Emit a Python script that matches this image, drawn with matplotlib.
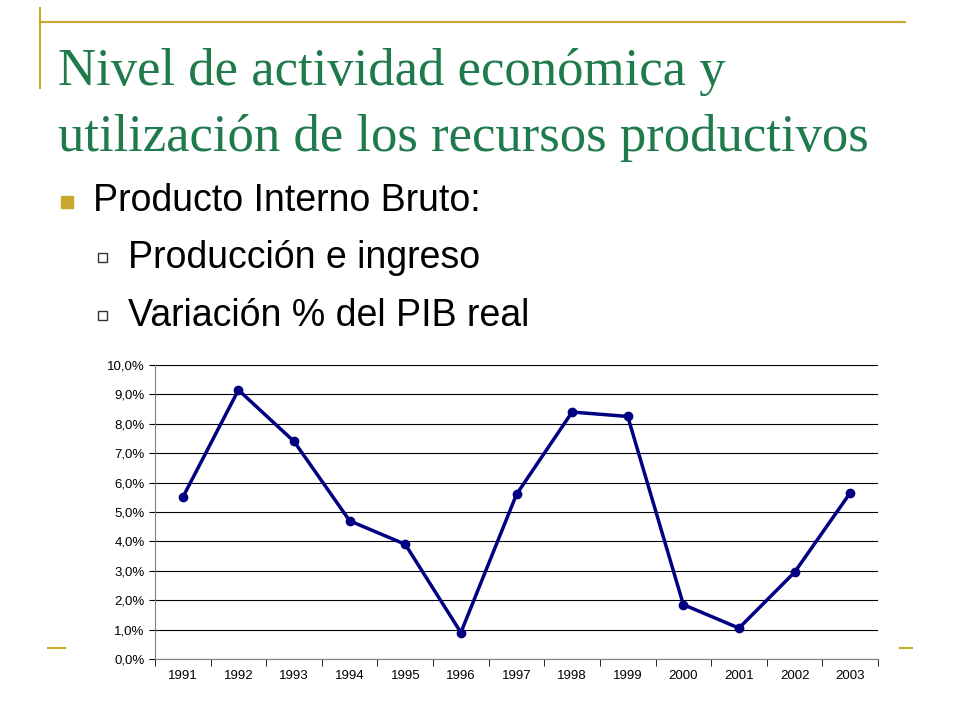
import matplotlib
matplotlib.use("Agg")
import matplotlib.pyplot as plt
from matplotlib.patches import Rectangle
from matplotlib.lines import Line2D
from matplotlib.ticker import FuncFormatter

years = ["1991", "1992", "1993", "1994", "1995", "1996", "1997",
         "1998", "1999", "2000", "2001", "2002", "2003"]
pib_var = [5.5, 9.15, 7.4, 4.7, 3.9, 0.9, 5.6, 8.4, 8.25, 1.85, 1.05, 2.95, 5.65]
title_lines = ["Nivel de actividad económica y",
               "utilización de los recursos productivos"]
bullet_main = "Producto Interno Bruto:"
bullet_sub = ["Producción e ingreso", "Variación % del PIB real"]

W, H = 960, 720
fig = plt.figure(figsize=(9.6, 7.2), dpi=100)
fig.patch.set_facecolor("white")

def fx(px):
    return px / W

def fy(py):
    return 1 - py / H

gold = "#c8a82c"
# slide decorations (bottom rule is hidden behind the chart box)
fig.add_artist(Line2D([fx(40), fx(905)], [fy(22), fy(22)], color=gold, lw=1.5))
fig.add_artist(Line2D([fx(40), fx(40)], [fy(8), fy(88)], color=gold, lw=1.5))
fig.add_artist(Line2D([fx(48), fx(65)], [fy(648), fy(648)], color=gold, lw=1.5))
fig.add_artist(Line2D([fx(900), fx(912)], [fy(648), fy(648)], color=gold, lw=1.5))

green = "#1f7a4c"
fig.text(fx(58), fy(72), title_lines[0], fontsize=38, family="Liberation Serif",
         color=green, va="center")
fig.text(fx(58), fy(138), title_lines[1], fontsize=38, family="Liberation Serif",
         color=green, va="center")

fig.add_artist(Rectangle((fx(61), fy(208)), fx(12), 12 / H, color=gold,
                         transform=fig.transFigure))
fig.text(fx(93), fy(201), bullet_main, fontsize=27, family="Liberation Sans",
         va="center")
for py, txt in zip([258, 316], bullet_sub):
    fig.add_artist(Rectangle((fx(98), fy(py + 4)), fx(9), 9 / H, fill=False,
                             edgecolor="#333333", lw=1, transform=fig.transFigure))
    fig.text(fx(128), fy(py), txt, fontsize=27, family="Liberation Sans",
             va="center")

ax = fig.add_axes([fx(155), fy(659), fx(878 - 155), (659 - 365) / H])
ax.set_facecolor("white")
x = list(range(len(years)))
ax.plot(x, pib_var, color="#000080", lw=2.5, marker="o", ms=6)
ax.set_xlim(-0.5, len(years) - 0.5)
ax.set_ylim(0, 10)
ax.set_yticks(range(0, 11))
ax.yaxis.set_major_formatter(FuncFormatter(lambda v, p: f"{v:.1f}%".replace(".", ",")))
ax.set_xticks(x)
ax.set_xticklabels(years, family="Liberation Sans")
for lb in ax.get_yticklabels():
    lb.set_family("Liberation Sans")
ax.set_xticks([i - 0.5 for i in range(len(years) + 1)], minor=True)
ax.tick_params(axis="x", which="major", length=0, labelsize=9.5, pad=8)
ax.tick_params(axis="x", which="minor", length=5, direction="out")
ax.tick_params(axis="y", labelsize=9.5, length=4)
ax.grid(axis="y", color="black", lw=0.8)
for s in ["top", "right"]:
    ax.spines[s].set_visible(False)
ax.spines["left"].set_color("#808080")
ax.spines["bottom"].set_color("#808080")
ax.set_axisbelow(True)

fig.savefig("out.png", dpi=100)
